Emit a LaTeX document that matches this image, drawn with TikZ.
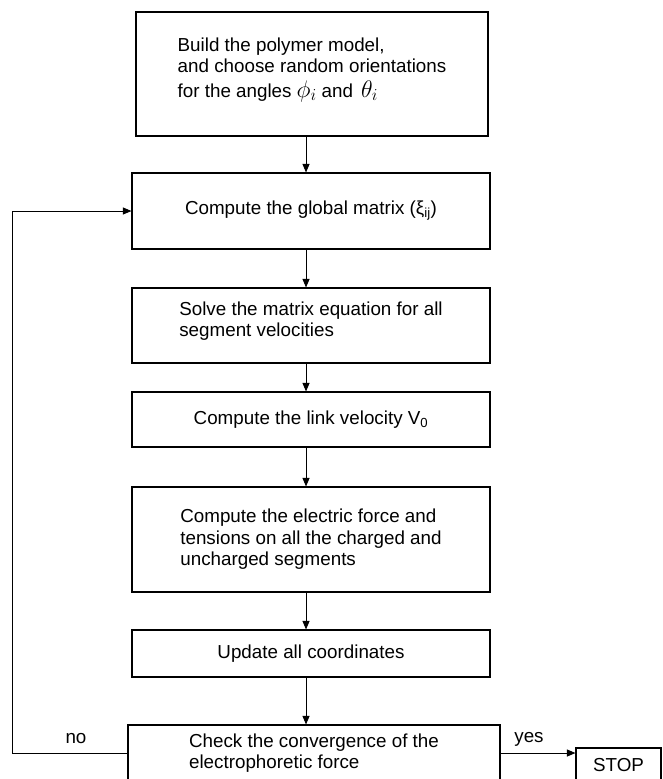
\RequirePackage{fix-cm}
\documentclass[tikz,border=0pt]{standalone}
\usepackage{fontspec}
\setmainfont{Liberation Sans}
\usetikzlibrary{arrows.meta}
\newcommand{\angsym}[1]{{\fontsize{24}{24}\selectfont$#1$}}
\begin{document}
\begin{tikzpicture}[x=1pt,y=-1pt,
  box/.style={draw, line width=1.1pt, inner sep=0pt, minimum width=358pt},
  txt/.style={font=\fontsize{18.8}{21.5}\selectfont},
  arr/.style={line width=0.9pt, -{Triangle[length=8.5pt,width=7pt]}}]
\useasboundingbox (0,0) rectangle (663,779);
\clip (0,0) rectangle (663,779);

% column of process steps
\node[box, txt, minimum width=352pt, minimum height=124pt, align=left] (build) at (312,74)
  {Build the polymer model,\\and choose random orientations\\[3pt]for the angles\hspace{5pt}\angsym{\phi_i}\hspace{5pt}and\hspace{8pt}\angsym{\theta_i}\\[-8pt]\mbox{}};
\node[box, txt, minimum height=76pt] (glob) at (311,211)
  {Compute the global matrix (ξ\textsubscript{ij})};
\node[box, txt, minimum height=75pt, align=left] (solve) at (311,325.5)
  {Solve the matrix equation for all\\segment velocities\\[-9pt]\mbox{}};
\node[box, txt, minimum height=55pt] (link) at (311,419.5)
  {Compute the link velocity V\textsubscript{0}};
\node[box, txt, minimum height=105pt, align=left] (force) at (311,539.5)
  {Compute the electric force and\\tensions on all the charged and\\uncharged segments};
\node[box, txt, minimum height=47pt] (upd) at (311,653.5)
  {Update all coordinates};
\node[box, txt, minimum width=372pt, minimum height=56pt, align=left] (chk) at (314,753)
  {Check the convergence of the\\electrophoretic force};
\node[box, txt, minimum width=85pt, minimum height=34pt] (stop) at (618.5,765) {STOP};

% branch labels
\node[txt, anchor=base] (no) at (76,743) {no};
\node[txt, anchor=base] (yes) at (529,742) {yes};

% main flow
\coordinate (spine) at (306,0);
\draw[arr] (build.south -| spine) -- (glob.north -| spine);
\draw[arr] (glob.south -| spine) -- (solve.north -| spine);
\draw[arr] (solve.south -| spine) -- (link.north -| spine);
\draw[arr] (link.south -| spine) -- (force.north -| spine);
\draw[arr] (force.south -| spine) -- (upd.north -| spine);
\draw[arr] (upd.south -| spine) -- (chk.north -| spine);

% feedback loop and exit
\coordinate (lft) at (12,0);
\draw[arr] (chk.west) -- (chk.west -| lft) -- (glob.west -| lft) -- (glob.west);
\draw[arr] (chk.east) -- (chk.east -| stop.west);
\end{tikzpicture}
\end{document}
